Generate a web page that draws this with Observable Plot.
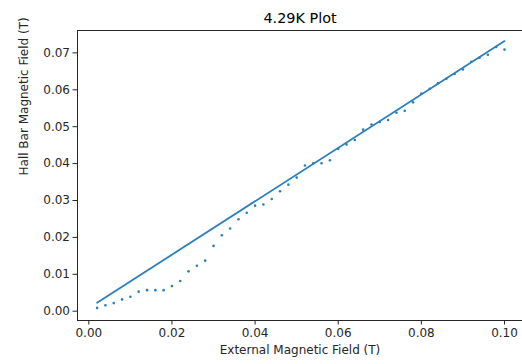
<!DOCTYPE html>
<html>
<head>
<meta charset="utf-8">
<script src="https://cdn.jsdelivr.net/npm/d3@7"></script>
<script src="https://cdn.jsdelivr.net/npm/@observablehq/plot@0.6"></script>
<style>
  html, body { margin: 0; padding: 0; background: #fff; }
</style>
</head>
<body>
<div id="chart"></div>
<script>
const title = "4.29K Plot";
const xLabel = "External Magnetic Field (T)";
const yLabel = "Hall Bar Magnetic Field (T)";

const externalField = [0.002,0.004,0.006,0.008,0.010,0.012,0.014,0.016,0.018,0.020,
  0.022,0.024,0.026,0.028,0.030,0.032,0.034,0.036,0.038,0.040,
  0.042,0.044,0.046,0.048,0.050,0.052,0.054,0.056,0.058,0.060,
  0.062,0.064,0.066,0.068,0.070,0.072,0.074,0.076,0.078,0.080,
  0.082,0.084,0.086,0.088,0.090,0.092,0.094,0.096,0.098,0.100];
const hallField = [0.0009,0.0016,0.0022,0.0032,0.0039,0.0053,0.0057,0.0057,0.0057,0.0068,
  0.0082,0.0108,0.0123,0.0137,0.0177,0.0206,0.0224,0.0249,0.0267,0.0286,
  0.0289,0.0304,0.0325,0.0343,0.0362,0.0395,0.0401,0.0401,0.0409,0.0440,
  0.0452,0.0464,0.0492,0.0506,0.0513,0.0518,0.0538,0.0543,0.0566,0.0590,
  0.0603,0.0618,0.0630,0.0643,0.0655,0.0676,0.0687,0.0695,0.0716,0.0709];

const fitX = [0.002, 0.100];
const fitY = [0.0023, 0.0732];

const xTicks = [0.00, 0.02, 0.04, 0.06, 0.08, 0.10];
const yTicks = [0.00, 0.01, 0.02, 0.03, 0.04, 0.05, 0.06, 0.07];

const xDomain = [-0.00272, 0.10433];
const yDomain = [-0.00252, 0.07607];

const points = externalField.map((x, i) => ({x, y: hallField[i]}));
const fit = fitX.map((x, i) => ({x, y: fitY[i]}));
const blue = "#2b7fbd";
const ink = "#262626";

const chart = Plot.plot({
  width: 522,
  height: 364,
  marginLeft: 77,
  marginRight: 0,
  marginTop: 30,
  marginBottom: 44,
  style: {fontFamily: "DejaVu Sans", fontSize: "12px", color: ink, background: "#fff"},
  x: {domain: xDomain},
  y: {domain: yDomain},
  marks: [
    Plot.axisX({ticks: xTicks, tickFormat: d3.format(".2f"), tickSize: 4.5, tickPadding: 3, label: null, fontSize: 12}),
    Plot.axisY({ticks: yTicks, tickFormat: d3.format(".2f"), tickSize: 4.5, tickPadding: 3, label: null, fontSize: 12}),
    Plot.ruleX([xDomain[0]], {stroke: ink, strokeWidth: 1}),
    Plot.ruleY([yDomain[0], yDomain[1]], {stroke: ink, strokeWidth: 1}),
    Plot.line(fit, {x: "x", y: "y", stroke: blue, strokeWidth: 1.8}),
    Plot.dot(points, {x: "x", y: "y", fill: blue, r: 1.3, stroke: "none"}),
    Plot.text([title], {frameAnchor: "top", dy: -18, fontSize: 14.4, fill: "#000"}),
    Plot.text([xLabel], {frameAnchor: "bottom", dy: 33, fontSize: 12, fill: ink}),
    Plot.text([yLabel], {frameAnchor: "left", dx: -53, rotate: -90, fontSize: 12, fill: ink})
  ]
});
document.getElementById("chart").appendChild(chart);
</script>
</body>
</html>
